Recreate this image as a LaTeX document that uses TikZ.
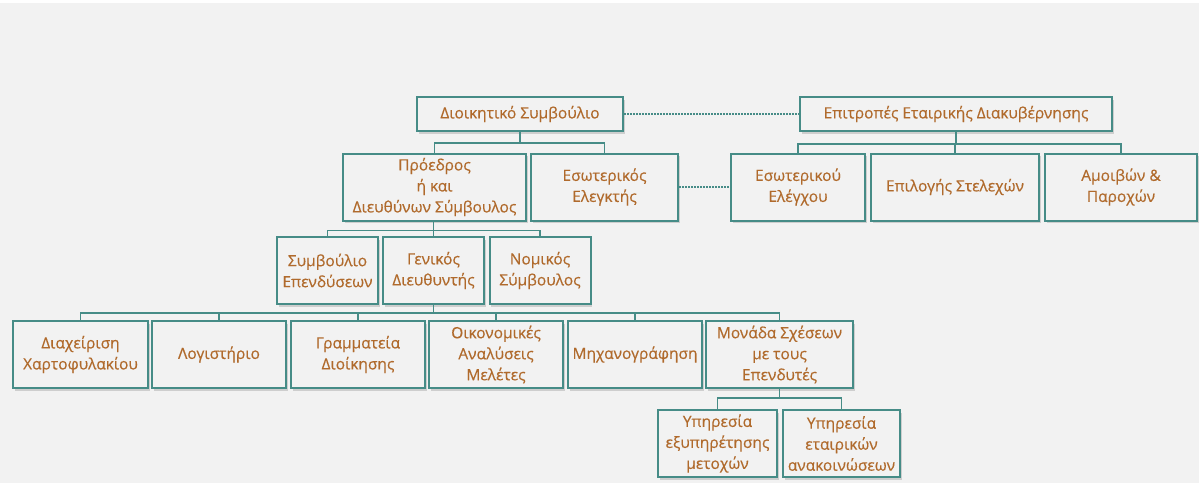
\documentclass[tikz,border=0pt]{standalone}
\usepackage{fontspec}
\setmainfont{Open Sans}[FakeBold=0.4]
\usetikzlibrary{shadows}
\definecolor{bgcol}{HTML}{F2F2F2}
\definecolor{boxline}{HTML}{468C87}
\definecolor{boxtext}{HTML}{B06A2C}
\begin{document}
\begin{tikzpicture}[x=1pt, y=-1pt,
    unit/.style={draw=boxline, line width=2pt, fill=bgcol, text=boxtext,
      align=center, inner sep=0pt, minimum height=67,
      font=\fontsize{15.5}{21}\selectfont,
      drop shadow={shadow xshift=1.5pt, shadow yshift=-2.5pt, fill=black!45, opacity=0.35}},
    link/.style={draw=boxline, line width=1.8pt},
    dots/.style={draw=boxline, line width=1.6pt, dash pattern=on 1.6pt off 1.4pt}]

  % background
  \fill[bgcol] (0,3) rectangle (1199,483);
  \fill[white] (0,0) rectangle (1199,3);

  % top level
  \node[unit, minimum width=206, minimum height=34] (board) at (520,114) {Διοικητικό Συμβούλιο};
  \node[unit, minimum width=312, minimum height=34] (committees) at (956,114) {Επιτροπές Εταιρικής Διακυβέρνησης};

  % second level
  \node[unit, minimum width=183] (ceo) at (434.5,187) {Πρόεδρος\\ή και\\Διευθύνων Σύμβουλος};
  \node[unit, minimum width=147] (auditor) at (604.5,187) {Εσωτερικός\\Ελεγκτής};
  \foreach \n/\x/\w/\t in {intaudit/798/134/{Εσωτερικού\\Ελέγχου},
      selection/955/168/{Επιλογής Στελεχών},
      remun/1121/152/{Αμοιβών \&\\Παροχών}} {
      \node[unit, minimum width=\w] (\n) at (\x,187) {\t};
    }

  % third level
  \foreach \n/\x/\t in {invest/327.5/{Συμβούλιο\\Επενδύσεων},
      gm/433.5/{Γενικός\\Διευθυντής},
      legal/540/{Νομικός\\Σύμβουλος}} {
      \node[unit, minimum width=101] (\n) at (\x,270.5) {\t};
    }

  % departments
  \foreach \n/\x/\w/\t in {portfolio/80.5/135/{Διαχείριση\\Χαρτοφυλακίου},
      accounting/219/134/{Λογιστήριο},
      secretariat/358/134/{Γραμματεία\\Διοίκησης},
      analyses/496/134/{Οικονομικές\\Αναλύσεις\\Μελέτες},
      it/635/134/{Μηχανογράφηση},
      ir/779.5/147/{Μονάδα Σχέσεων\\με τους\\Επενδυτές}} {
      \node[unit, minimum width=\w] (\n) at (\x,354.5) {\t};
    }

  % investor relations services
  \node[unit, minimum width=119] (shareholders) at (717.5,443.5) {Υπηρεσία\\εξυπηρέτησης\\μετοχών};
  \node[unit, minimum width=117] (announce) at (841.5,443.5) {Υπηρεσία\\εταιρικών\\ανακοινώσεων};

  % connectors
  \draw[link] (board.south) -- ++(0,11) coordinate (boardbus);
  \foreach \n in {ceo,auditor} \draw[link] (boardbus) -| (\n.north);

  \draw[link] (committees.south) -- ++(0,12) coordinate (combus);
  \foreach \n in {intaudit,selection,remun} \draw[link] (combus) -| (\n.north);

  \draw[link] (ceo.south -| gm.north) -- ++(0,9) coordinate (ceobus);
  \foreach \n in {invest,gm,legal} \draw[link] (ceobus) -| (\n.north);

  \draw[link] (gm.south) -- ++(0,8) coordinate (gmbus);
  \foreach \n in {portfolio,accounting,secretariat,analyses,it,ir} \draw[link] (gmbus) -| (\n.north);

  \draw[link] (ir.south) -- ++(0,9) coordinate (irbus);
  \foreach \n in {shareholders,announce} \draw[link] (irbus) -| (\n.north);

  % dotted relations
  \draw[dots] (board.east) -- (committees.west);
  \draw[dots] (auditor.east) -- (intaudit.west);
\end{tikzpicture}
\end{document}
